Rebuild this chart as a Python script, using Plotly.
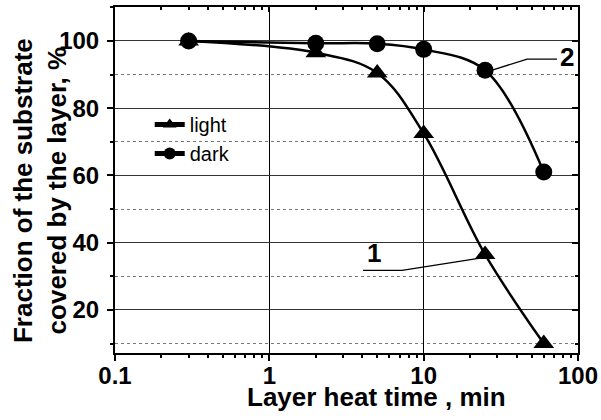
import plotly.graph_objects as go

# ---- data ----
time_min = [0.3, 2, 5, 10, 25, 60]
light = [100, 96.5, 90.5, 72.5, 36.5, 10]
dark = [100, 99.3, 99.2, 97.5, 91.3, 61]

x_ticks = [0.1, 1, 10, 100]
x_ticktext = ["0.1", "1", "10", "100"]
y_ticks = [20, 40, 60, 80, 100]

# leader lines for the curve labels
lead1_x = [4.05, 7.24, 23.2]
lead1_y = [31.8, 31.8, 35.4]
lead2_x = [73.1, 46.8, 28.1]
lead2_y = [94.6, 94.6, 91.4]

FONT = "Liberation Sans, Arial, sans-serif"

fig = go.Figure()
fig.add_trace(go.Scatter(
    x=time_min, y=light, name="light", mode="lines+markers",
    line=dict(color="black", width=2.5, shape="spline", smoothing=1.0),
    marker=dict(symbol="triangle-up", size=18, color="black"),
))
fig.add_trace(go.Scatter(
    x=time_min, y=dark, name="dark", mode="lines+markers",
    line=dict(color="black", width=2.5, shape="spline", smoothing=1.0),
    marker=dict(symbol="circle", size=17, color="black"),
))
fig.add_trace(go.Scatter(x=lead1_x, y=lead1_y, mode="lines", showlegend=False,
                         line=dict(color="black", width=1.3), hoverinfo="skip"))
fig.add_trace(go.Scatter(x=lead2_x, y=lead2_y, mode="lines", showlegend=False,
                         line=dict(color="black", width=1.3), hoverinfo="skip"))
# dummy trace for mirrored (top/right) axes
fig.add_trace(go.Scatter(x=[None], y=[None], xaxis="x2", yaxis="y2",
                         showlegend=False, hoverinfo="skip"))

fig.update_layout(
    width=601, height=420,
    margin=dict(l=115, r=23, t=7, b=67, autoexpand=False),
    paper_bgcolor="white", plot_bgcolor="white",
    font=dict(family=FONT, color="black"),
    showlegend=True,
    legend=dict(x=0.075, y=0.717, xanchor="left", yanchor="top",
                bgcolor="rgba(0,0,0,0)", font=dict(size=20, family=FONT),
                tracegroupgap=0, itemsizing="constant"),
    xaxis=dict(
        type="log", range=[-1, 2], automargin=False,
        tickvals=x_ticks, ticktext=x_ticktext,
        tickfont=dict(size=24, family=FONT, weight="bold"),
        ticks="outside", ticklen=6, tickwidth=1.5, tickcolor="black",
        ticklabelstandoff=-6,
        showline=True, linecolor="black", linewidth=2, mirror=True,
        showgrid=True, gridcolor="black", gridwidth=1,
        minor=dict(dtick="D1", ticks="outside", ticklen=3, tickcolor="black", showgrid=False),
        zeroline=False,
    ),
    yaxis=dict(
        range=[7.2, 110.1], automargin=False,
        tickvals=y_ticks,
        tickfont=dict(size=24, family=FONT, weight="bold"),
        ticks="outside", ticklen=6, tickwidth=1.5, tickcolor="black",
        ticklabelstandoff=3,
        showline=True, linecolor="black", linewidth=2, mirror=True,
        showgrid=True, gridcolor="#333333", gridwidth=1,
        minor=dict(tick0=0, dtick=10, ticks="outside", ticklen=3, tickcolor="black",
                   showgrid=True, gridcolor="#777777", griddash="dot", gridwidth=1),
        zeroline=False,
    ),
    xaxis2=dict(
        type="log", range=[-1, 2], overlaying="x", side="top", anchor="y",
        automargin=False,
        tickvals=x_ticks, showticklabels=False,
        ticks="inside", ticklen=5, tickcolor="black", tickwidth=1.5,
        minor=dict(dtick="D1", ticks="inside", ticklen=3, tickcolor="black", showgrid=False),
        showgrid=False, showline=False, zeroline=False,
    ),
    yaxis2=dict(
        range=[7.2, 110.1], overlaying="y", side="right", anchor="x",
        automargin=False,
        tickvals=y_ticks, showticklabels=False,
        ticks="inside", ticklen=6, tickcolor="black", tickwidth=1.5,
        minor=dict(tick0=0, dtick=10, ticks="inside", ticklen=3, tickcolor="black", showgrid=False),
        showgrid=False, showline=False, zeroline=False,
    ),
    annotations=[
        dict(text="<b>Layer heat time , min</b>", xref="paper", yref="paper",
             x=0.564, y=-0.128, xanchor="center", yanchor="middle",
             showarrow=False, font=dict(size=26, family=FONT)),
        dict(text="<b>Fraction of the substrate<br>covered by the layer, %</b>",
             xref="paper", yref="paper", x=-0.162, y=0.471, textangle=-90,
             xanchor="center", yanchor="middle", showarrow=False,
             font=dict(size=26, family=FONT)),
        dict(text="<b>1</b>", xref="x", yref="y", x=0.68, y=36.9,
             showarrow=False, font=dict(size=26, family=FONT)),
        dict(text="<b>2</b>", xref="x", yref="y", x=1.929, y=95.2,
             showarrow=False, font=dict(size=26, family=FONT)),
    ],
)

fig.write_html("out.html", config={"displayModeBar": False},
               post_script="document.body.style.margin='0px';document.body.style.overflow='hidden';")
